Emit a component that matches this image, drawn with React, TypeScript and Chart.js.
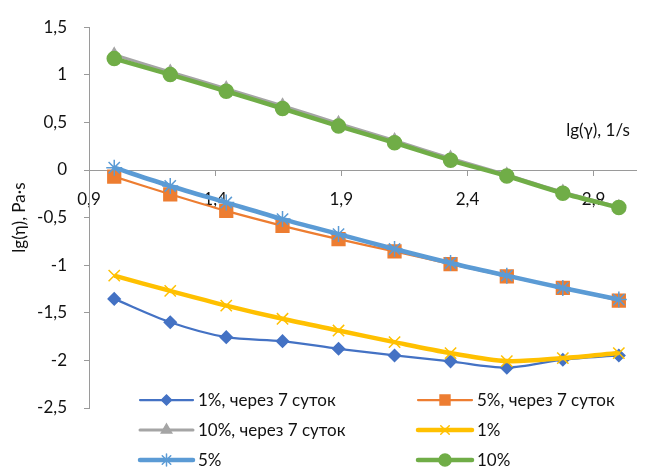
import React, { useEffect, useRef } from 'react';
import { Chart, registerables } from 'chart.js';
import { drawPoint } from 'chart.js/helpers';

Chart.register(...registerables);

const xValues = [1.0, 1.222, 1.444, 1.667, 1.889, 2.111, 2.333, 2.556, 2.778, 3.0];
const s1Week = [-1.354, -1.599, -1.756, -1.798, -1.878, -1.948, -2.01, -2.076, -1.993, -1.948];
const s5Week = [-0.07, -0.255, -0.43, -0.586, -0.726, -0.855, -0.988, -1.117, -1.239, -1.372];
const s10Week = [1.21, 1.03, 0.855, 0.675, 0.49, 0.31, 0.125, -0.05, -0.23, -0.39];
const s1 = [-1.11, -1.27, -1.424, -1.563, -1.686, -1.808, -1.923, -2.007, -1.976, -1.923];
const s5 = [0.024, -0.168, -0.342, -0.516, -0.673, -0.83, -0.977, -1.11, -1.239, -1.361];
const s10 = [1.17, 1.002, 0.827, 0.646, 0.461, 0.286, 0.102, -0.063, -0.244, -0.395];

const seriesNames = ['1%, через 7 суток', '5%, через 7 суток', '10%, через 7 суток', '1%', '5%', '10%'];
const xTicks = [0.9, 1.4, 1.9, 2.4, 2.9];
const yMin = -2.5;
const yMax = 1.5;
const xMin = 0.9;
const xMax = 3.07;
const xTitle = 'lg(γ), 1/s';
const yTitle = 'lg(η), Pa·s';

const FONT = 'Lato';
const FS = 17;
const TEXT = '#111111';
const AXIS = '#9a9a9a';

const fmt = (v: number) => String(Math.round(v * 10) / 10).replace('.', ',');

const styles = [
  { color: '#4472C4', width: 2.25, style: 'rectRot', r: 6, lr: 5 },
  { color: '#ED7D31', width: 2.25, style: 'rect', r: 9, lr: 7 },
  { color: '#A5A5A5', width: 3, style: 'triangle', r: 7, lr: 6 },
  { color: '#FFC000', width: 4.5, style: 'crossRot', r: 8, lr: 6 },
  { color: '#5B9BD5', width: 4.5, style: 'star', r: 8, lr: 6 },
  { color: '#70AD47', width: 4.5, style: 'circle', r: 7, lr: 6 },
];

const allSeries = [s1Week, s5Week, s10Week, s1, s5, s10];

const overlayPlugin = {
  id: 'overlay',
  afterDraw(chart: any) {
    const ctx = chart.ctx as CanvasRenderingContext2D;
    ctx.save();
    ctx.fillStyle = TEXT;
    ctx.font = `${FS}px ${FONT}`;
    ctx.textAlign = 'center';
    ctx.textBaseline = 'middle';
    ctx.fillText(xTitle, 598, 131);
    ctx.save();
    ctx.translate(20, (chart.chartArea.top + chart.chartArea.bottom) / 2);
    ctx.rotate(-Math.PI / 2);
    ctx.fillText(yTitle, 0, 0);
    ctx.restore();

    const cols = [
      { x1: 140, x2: 193, tx: 198 },
      { x1: 418, x2: 472, tx: 477 },
    ];
    const rows = [400, 430, 460];
    seriesNames.forEach((name, i) => {
      const st = styles[i];
      const c = cols[i % 2];
      const y = rows[Math.floor(i / 2)];
      ctx.strokeStyle = st.color;
      ctx.lineWidth = st.width;
      ctx.lineCap = 'round';
      ctx.beginPath();
      ctx.moveTo(c.x1, y);
      ctx.lineTo(c.x2, y);
      ctx.stroke();
      ctx.fillStyle = st.color;
      ctx.lineWidth = 1.5;
      drawPoint(ctx, { pointStyle: st.style, radius: st.lr, rotation: 0, borderWidth: 1.5 } as any, (c.x1 + c.x2) / 2, y);
      ctx.fillStyle = TEXT;
      ctx.font = `${FS}px ${FONT}`;
      ctx.textAlign = 'left';
      ctx.textBaseline = 'middle';
      ctx.fillText(name, c.tx, y + 1);
    });
    ctx.restore();
  },
};

export default function App() {
  const ref = useRef<HTMLCanvasElement | null>(null);
  useEffect(() => {
    if (!ref.current) return;
    const datasets = allSeries.map((vals, i) => {
      const st = styles[i];
      return {
        label: seriesNames[i],
        data: vals.map((v, j) => ({ x: xValues[j], y: v })),
        showLine: true,
        borderColor: st.color,
        backgroundColor: st.color,
        borderWidth: st.width,
        pointStyle: st.style,
        pointRadius: st.r,
        pointBorderWidth: 1.5,
        pointBackgroundColor: st.color,
        pointBorderColor: st.color,
        tension: 0.3,
        order: 6 - i,
      };
    });
    const chart = new Chart(ref.current, {
      type: 'scatter',
      data: { datasets },
      plugins: [overlayPlugin],
      options: {
        responsive: false,
        animation: false,
        devicePixelRatio: 1,
        layout: { padding: { top: 26, bottom: 61, right: 1, left: 0 } },
        plugins: { legend: { display: false }, tooltip: { enabled: false } },
        scales: {
          x: {
            type: 'linear',
            position: { y: 0 } as any,
            min: xMin,
            max: xMax,
            afterBuildTicks: (scale: any) => {
              scale.ticks = xTicks.map((v) => ({ value: v }));
            },
            ticks: {
              font: { family: FONT, size: FS },
              color: TEXT,
              padding: 14,
              maxRotation: 0,
              autoSkip: false,
              callback: (v: any) => fmt(Number(v)),
            },
            grid: { drawOnChartArea: false, drawTicks: true, tickLength: 5, color: AXIS },
            border: { display: true, color: AXIS, width: 1 },
          },
          y: {
            type: 'linear',
            min: yMin,
            max: yMax,
            afterFit: (scale: any) => {
              scale.width = 89;
            },
            ticks: {
              stepSize: 0.5,
              font: { family: FONT, size: FS },
              color: TEXT,
              padding: 17,
              callback: (v: any) => fmt(Number(v)),
            },
            grid: { drawOnChartArea: false, drawTicks: true, tickLength: 5, color: AXIS },
            border: { display: true, color: AXIS, width: 1 },
          },
        },
      },
    });
    return () => chart.destroy();
  }, []);
  return (
    <div style={{ position: 'absolute', left: 0, top: 0, width: 647, height: 469, background: '#fff' }}>
      <canvas ref={ref} width={647} height={469} />
    </div>
  );
}
